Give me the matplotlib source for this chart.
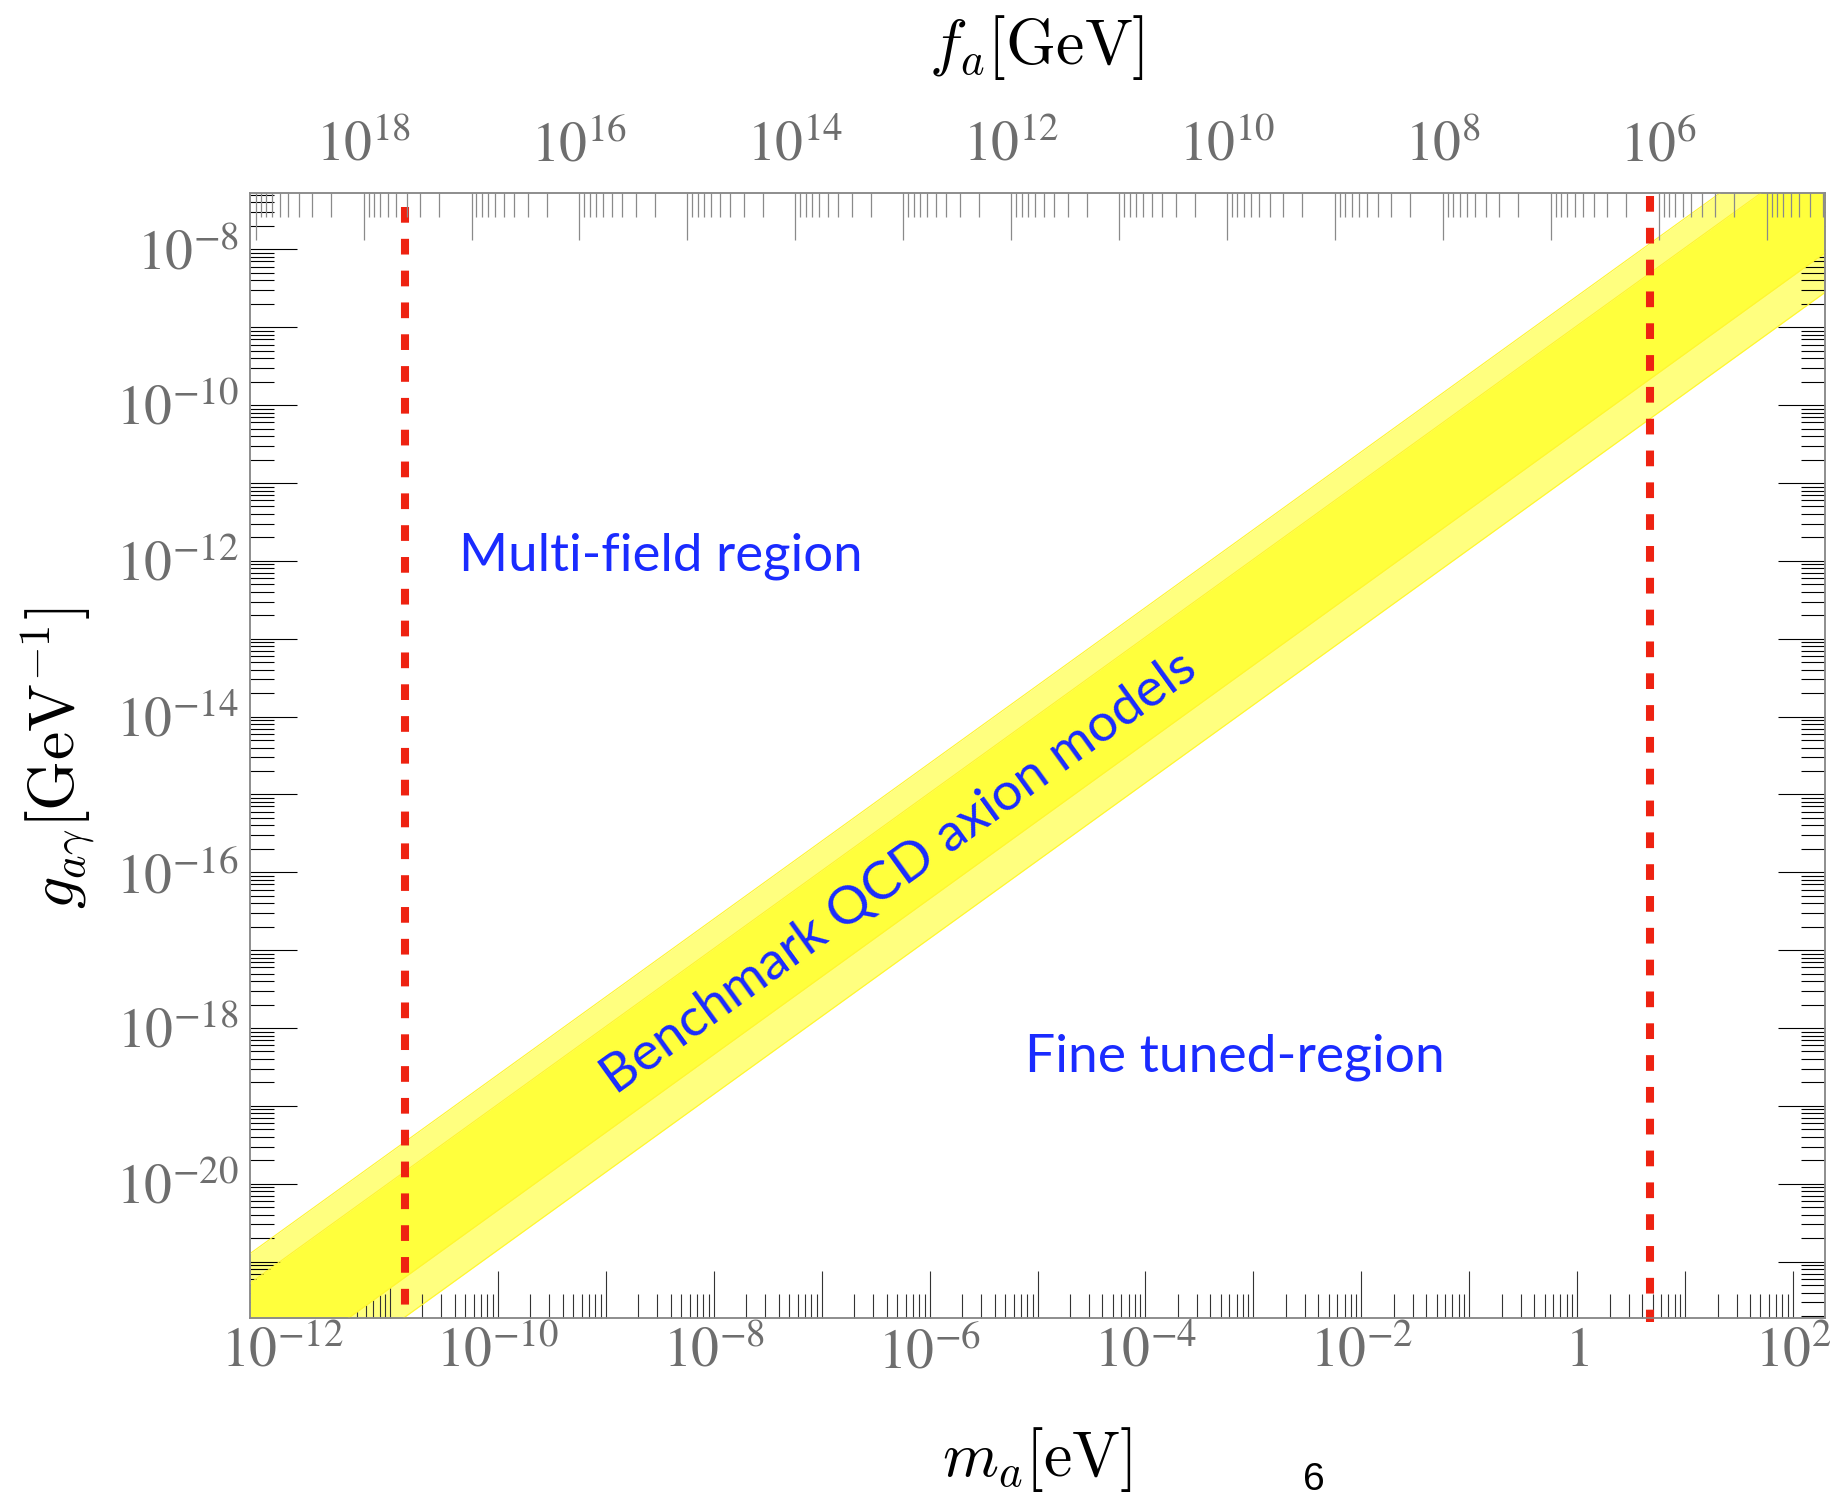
import numpy as np
import matplotlib.pyplot as plt
from matplotlib.ticker import LogLocator, NullFormatter

# m_a [eV] <-> f_a [GeV]:  m_a = K / f_a
K = 5.7e6

# axis ranges
m_lim = [10 ** -12.297, 10 ** 2.297]
g_lim = [10 ** -21.72, 10 ** -7.28]

# QCD axion band, edges given at the two ends of the m_a range
m_band = [10 ** -12.297, 10 ** 2.297]
g_outer_hi = [10 ** -20.897, 10 ** -6.303]
g_inner_hi = [10 ** -21.277, 10 ** -6.683]
g_inner_lo = [10 ** -22.637, 10 ** -8.043]
g_outer_lo = [10 ** -23.147, 10 ** -8.553]

# red dashed limits on m_a [eV]
m_limits = [1.38e-11, 4.7]

x_exps = list(range(-12, 3))
y_exps = list(range(-21, -7))
f_exps = list(range(5, 20))

plt.rcParams['mathtext.fontset'] = 'stix'
plt.rcParams['font.family'] = 'STIXGeneral'

W, H = 1831, 1496
fig = plt.figure(figsize=(W / 100, H / 100), dpi=100)
ax = fig.add_axes([250 / W, 1 - 1317.7 / H, 1575 / W, 1124.4 / H])
ax.set_xscale('log')
ax.set_yscale('log')
ax.set_xlim(m_lim)
ax.set_ylim(g_lim)

# band
ax.fill_between(m_band, g_outer_lo, g_outer_hi, color='#FFFF7F', lw=0, zorder=1)
ax.fill_between(m_band, g_inner_lo, g_inner_hi, color='#FFFF3C', lw=0, zorder=2)
for g in (g_outer_hi, g_inner_hi, g_inner_lo, g_outer_lo):
    ax.plot(m_band, g, color='#FFF530', lw=0.8, zorder=3)

# dashed lines, drawn from the top down
ax.plot([m_limits[0]] * 2, [0.9878, 0.0], transform=ax.get_xaxis_transform(),
        color='#EE2211', lw=5.8, ls=(0, (1.95, 2.0)), clip_on=False, zorder=5)
ax.plot([m_limits[1]] * 2, [0.9976, -0.0035], transform=ax.get_xaxis_transform(),
        color='#EE2211', lw=5.8, ls=(0, (1.95, 2.0)), clip_on=False, zorder=5)

# ticks
def lab(k):
    if k % 2:
        return ''
    if k == 0:
        return '$1$'
    return '$10^{%d}$' % k

grey = '#6e6e6e'
ax.set_xticks([10.0 ** k for k in x_exps])
ax.set_xticklabels([lab(k) for k in x_exps])
ax.set_yticks([10.0 ** k for k in y_exps])
ax.set_yticklabels([lab(k) for k in y_exps])
ax.xaxis.set_minor_locator(LogLocator(base=10, subs=np.arange(2, 10), numticks=200))
ax.yaxis.set_minor_locator(LogLocator(base=10, subs=np.arange(2, 10), numticks=200))
ax.xaxis.set_minor_formatter(NullFormatter())
ax.yaxis.set_minor_formatter(NullFormatter())
ax.tick_params(axis='x', which='both', direction='in', top=False, bottom=True,
               color='#333333', width=0.8, labelsize=40, labelcolor=grey, pad=7)
ax.tick_params(axis='y', which='both', direction='in', left=True, right=True,
               color='black', width=0.8, labelsize=40, labelcolor=grey, pad=8)
ax.tick_params(which='major', length=34)
ax.tick_params(which='minor', length=17)
ax.set_ylim(g_lim)
ax.set_xlim(m_lim)
for s in ax.spines.values():
    s.set_color('#8a8a8a')
    s.set_linewidth(1.1)

# top axis: f_a
ax2 = ax.twiny()
ax2.set_xscale('log')
ax2.set_xlim(K / m_lim[0], K / m_lim[1])
ax2.set_xticks([10.0 ** k for k in f_exps])
ax2.set_xticklabels([lab(k) for k in f_exps])
ax2.xaxis.set_minor_locator(LogLocator(base=10, subs=np.arange(2, 10), numticks=200))
ax2.xaxis.set_minor_formatter(NullFormatter())
ax2.set_xlim(K / m_lim[0], K / m_lim[1])
ax2.tick_params(axis='x', which='both', direction='in', color='#8a8a8a', width=0.9,
                labelsize=40, labelcolor=grey, pad=15)
ax2.tick_params(which='major', length=34)
ax2.tick_params(which='minor', length=17)
for s in ax2.spines.values():
    s.set_color('#8a8a8a')
    s.set_linewidth(1.1)

# axis labels
fig.text(1037 / W, 1 - 1460 / H, r'$m_a[\mathrm{eV}]$', fontsize=46,
         math_fontfamily='cm', ha='center', va='center')
fig.text(1037 / W, 1 - 47 / H, r'$f_a[\mathrm{GeV}]$', fontsize=46,
         math_fontfamily='cm', ha='center', va='center')
fig.text(58 / W, 1 - 758 / H, r'$g_{a\gamma}[\mathrm{GeV}^{-1}]$', fontsize=46,
         math_fontfamily='cm', ha='center', va='center', rotation=90)

# annotations
blue = '#1a2bff'
ax.text(10 ** -10.36, 10 ** -12.12, 'Multi-field region', color=blue,
        fontsize=38, family='Lato', ha='left', va='baseline', zorder=6)
ax.text(10 ** -5.114, 10 ** -18.56, 'Fine tuned-region', color=blue,
        fontsize=38.5, family='Lato', ha='left', va='baseline', zorder=6)
ax.text(10 ** -6.28, 10 ** -16.01, 'Benchmark QCD axion models', color=blue,
        fontsize=38.5, family='Lato', ha='center', va='center', rotation=35.8,
        rotation_mode='anchor', zorder=6)

fig.text(1314 / W, 1 - 1480 / H, '6', fontsize=28, family='Liberation Sans',
         ha='center', va='center')

fig.savefig('out.png', dpi=100)
